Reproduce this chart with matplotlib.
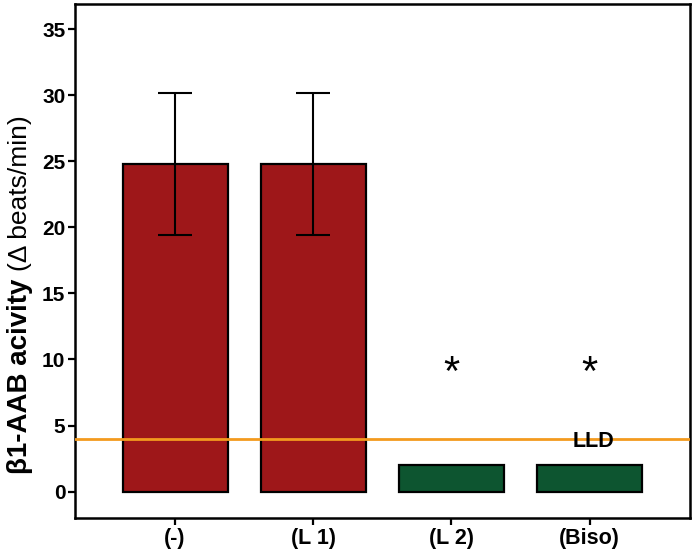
import numpy as np
import matplotlib
matplotlib.use("Agg")
import matplotlib.pyplot as plt

plt.rcParams['font.family'] = ['Liberation Sans', 'DejaVu Sans']

# data
groups = ['(-)', '(L 1)', '(L 2)', '(Biso)']
activity = [24.8, 24.8, 2.0, 2.0]
sem = [5.4, 5.4, 0.0, 0.0]
has_err = [True, True, False, False]
signif = [False, False, True, True]
lld = 4.0
star_y = 8.9

red = '#9E1719'
green = '#0D5530'
orange = '#F39A1E'

fig = plt.figure(figsize=(6.95, 5.57), dpi=100)
ax = fig.add_axes([75 / 695, 1 - 518 / 557, 615 / 695, 514 / 557])

x = np.arange(len(groups))
colors = [red if v > 10 else green for v in activity]
ax.bar(x, activity, width=0.76, color=colors, edgecolor='black', linewidth=1.6, zorder=2)

for xi, v, e, h in zip(x, activity, sem, has_err):
    if h:
        ax.errorbar(xi, v, yerr=e, fmt='none', ecolor='black', elinewidth=1.5,
                    capsize=12, capthick=1.5, zorder=3)

ax.axhline(lld, color=orange, linewidth=2.0, zorder=4)
ax.text(3.03, 3.4, 'LLD', ha='center', va='baseline', fontsize=15.5, fontweight='bold', zorder=5)

for xi, s in zip(x, signif):
    if s:
        ax.text(xi, star_y, '*', ha='center', va='center', fontsize=30, zorder=5)

ax.set_xlim(-0.724, 3.727)
ax.set_ylim(-2.0, 36.9)
ax.set_yticks(np.arange(0, 36, 5))
ax.set_xticks(x)
ax.set_xticklabels(groups)
for lab in ax.get_xticklabels():
    lab.set_fontweight('bold')
    lab.set_fontsize(15.5)
for lab in ax.get_yticklabels():
    lab.set_fontweight('bold')
    lab.set_fontsize(15)
ax.tick_params(axis='both', width=1.6, length=5, pad=2)

for sp in ax.spines.values():
    sp.set_linewidth(1.8)

# y label: bold part + normal-weight unit part
renderer = fig.canvas.get_renderer()
t1 = fig.text(20 / 695, 1 - 474 / 557, 'β1-AAB acivity ', rotation=90, ha='center', va='bottom',
              fontsize=20, fontweight='bold')
bb = t1.get_window_extent(renderer)
fig.text(20 / 695, bb.y1 / fig.bbox.height, '(Δ beats/min)', rotation=90, ha='center', va='bottom',
         fontsize=19)

fig.savefig('out.png', dpi=100)
